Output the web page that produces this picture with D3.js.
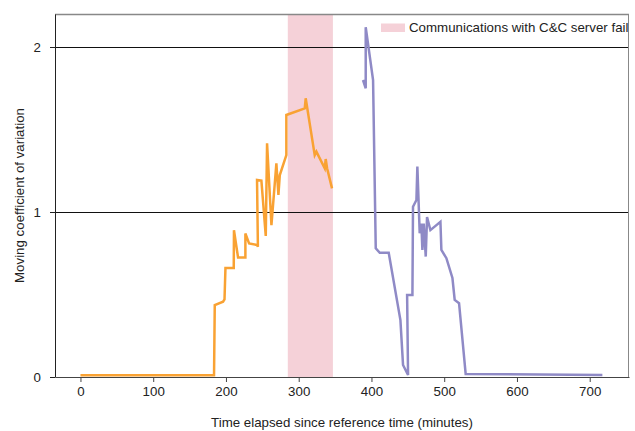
<!DOCTYPE html>
<html>
<head>
<meta charset="utf-8">
<script src="https://cdn.jsdelivr.net/npm/d3@7"></script>
<style>
  body { margin: 0; background: #fff; }
  svg { display: block; }
</style>
</head>
<body>
<svg id="chart"></svg>
<script>
// data: [minutes, moving CV]
const botnetA = [
  [0, 0.01], [183.6, 0.01], [184.6, 0.436], [196, 0.456], [198, 0.47], [199.3, 0.66],
  [210.7, 0.66], [211, 0.89], [216.6, 0.725], [226.7, 0.725], [226.7, 0.87], [231.8, 0.81],
  [242.7, 0.80], [243.9, 0.79], [242.7, 1.194], [248.7, 1.19], [254.7, 0.855], [256.5, 1.416],
  [262.5, 0.92], [269.3, 1.295], [272.1, 1.103], [274, 1.224], [283, 1.345], [283, 1.588],
  [308.3, 1.628], [309.6, 1.689], [322, 1.345], [324.3, 1.366], [335.8, 1.265], [337.1, 1.321],
  [339, 1.265], [345.8, 1.143]
];
const botnetB = [
  [388.4, 1.8], [392.1, 1.75], [392.1, 2.12], [402.2, 1.8], [405.9, 0.78], [411.4, 0.753],
  [423.7, 0.753], [439.8, 0.345], [443.4, 0.073], [450.3, 0.012], [449, 0.497], [456.3, 0.497],
  [457.1, 1.032], [461.8, 1.073], [463.1, 1.275], [466.3, 0.871], [468.6, 0.93], [470, 0.77],
  [471.8, 0.93], [474.6, 0.73], [476.4, 0.97], [481, 0.89], [494.8, 0.94], [496.1, 0.77],
  [503, 0.72], [511.3, 0.6], [514.4, 0.467], [520.4, 0.447], [529.5, 0.018], [717.4, 0.012]
];
const failWindow = [285, 347];
const xTicks = [0, 100, 200, 300, 400, 500, 600, 700];
const yTicks = [0, 1, 2];
const legendLabel = "Communications with C&C server fail";

const width = 635;
const height = 431;
const margin = {top: 14, right: 6, bottom: 54, left: 55};
const font = "13.3px 'Liberation Sans', Arial, sans-serif";

const svg = d3.select("#chart")
    .attr("width", width)
    .attr("height", height)
    .style("font", font);

const x = d3.scaleLinear()
    .domain([-35, 754])
    .range([margin.left, width - margin.right]);
const y = d3.scaleLinear()
    .domain([0, 2.2])
    .range([height - margin.bottom, margin.top]);

// shaded failure window
svg.append("rect")
    .attr("x", x(failWindow[0]))
    .attr("y", margin.top)
    .attr("width", x(failWindow[1]) - x(failWindow[0]))
    .attr("height", y(0) - margin.top)
    .attr("fill", "#f5d1d8");

// horizontal reference lines
svg.append("g")
    .selectAll("line")
    .data(yTicks.filter(d => d > 0))
    .join("line")
    .attr("x1", margin.left)
    .attr("x2", width - margin.right)
    .attr("y1", d => y(d) + 0.5)
    .attr("y2", d => y(d) + 0.5)
    .attr("stroke", "#111")
    .attr("stroke-width", 1);

const line = d3.line()
    .x(d => x(d[0]))
    .y(d => y(d[1]));

svg.append("path")
    .datum(botnetA)
    .attr("d", line)
    .attr("fill", "none")
    .attr("stroke", "#f9a233")
    .attr("stroke-width", 2.5)
    .attr("stroke-linejoin", "miter");

svg.append("path")
    .datum(botnetB)
    .attr("d", line)
    .attr("fill", "none")
    .attr("stroke", "#8f8ac6")
    .attr("stroke-width", 2.5)
    .attr("stroke-linejoin", "miter");

// frame: top/right light, left/bottom dark
svg.append("line")
    .attr("x1", margin.left).attr("x2", width - margin.right)
    .attr("y1", margin.top + 0.5).attr("y2", margin.top + 0.5)
    .attr("stroke", "#888").attr("stroke-width", 1.5);
svg.append("line")
    .attr("x1", width - margin.right - 0.5).attr("x2", width - margin.right - 0.5)
    .attr("y1", margin.top).attr("y2", y(0))
    .attr("stroke", "#888").attr("stroke-width", 1);

const xAxis = svg.append("g")
    .attr("transform", `translate(0,${y(0)})`)
    .call(d3.axisBottom(x).tickValues(xTicks).tickSize(5).tickPadding(5).tickSizeOuter(0));
xAxis.select(".domain").attr("stroke", "#444");
xAxis.selectAll(".tick line").attr("stroke", "#444");

const yAxis = svg.append("g")
    .attr("transform", `translate(${margin.left},0)`)
    .call(d3.axisLeft(y).tickValues(yTicks).tickFormat(d3.format("d")).tickSize(5).tickPadding(9).tickSizeOuter(0));
yAxis.select(".domain").attr("stroke", "#222");
yAxis.selectAll(".tick line").attr("stroke", "#222");

svg.selectAll(".tick text")
    .attr("fill", "#222")
    .style("font", font);

// axis titles
svg.append("text")
    .attr("x", (margin.left + width - margin.right) / 2)
    .attr("y", 426.5)
    .attr("text-anchor", "middle")
    .attr("fill", "#222")
    .text("Time elapsed since reference time (minutes)");

svg.append("text")
    .attr("transform", `translate(23.5,${(margin.top + y(0)) / 2}) rotate(-90)`)
    .attr("text-anchor", "middle")
    .attr("fill", "#222")
    .text("Moving coefficient of variation");

// legend
const legend = svg.append("g");
legend.append("rect")
    .attr("x", 381).attr("y", 23.5)
    .attr("width", 24).attr("height", 8.5)
    .attr("fill", "#f5d1d8");
legend.append("text")
    .attr("x", 409).attr("y", 32)
    .attr("fill", "#222")
    .text(legendLabel);
</script>
</body>
</html>
